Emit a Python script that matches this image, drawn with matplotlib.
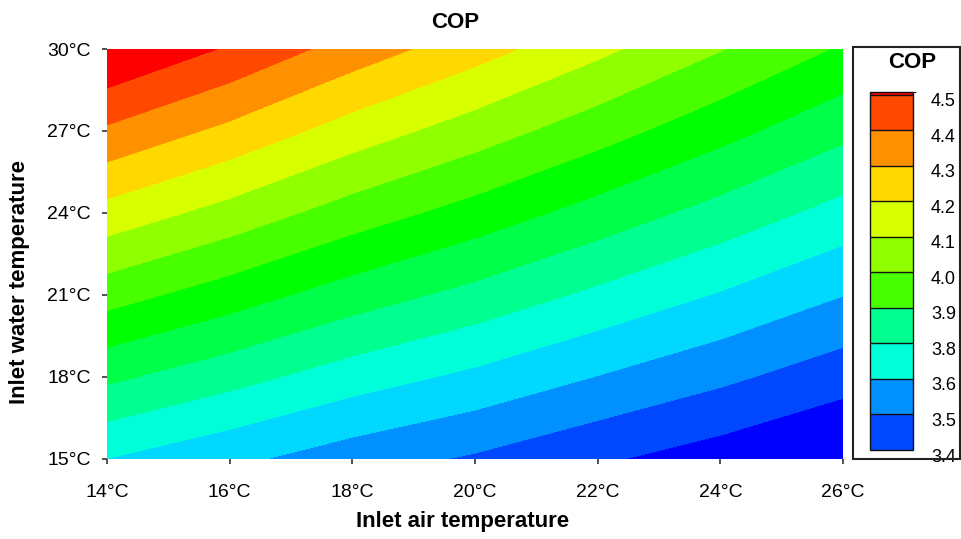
import numpy as np
import matplotlib
matplotlib.use("Agg")
import matplotlib.pyplot as plt
from matplotlib.colors import ListedColormap, BoundaryNorm
from matplotlib.cm import ScalarMappable
from matplotlib.patches import Rectangle
import matplotlib.transforms as mtransforms

plt.rcParams['font.family'] = ['Liberation Sans', 'DejaVu Sans']

# ---- data ----
air_temp = [14, 16, 18, 20, 22, 24, 26]
water_temp = [15, 18, 21, 24, 27, 30]
# COP values: rows = water temperature, columns = air temperature
cop_tw15 = [3.660, 3.599, 3.538, 3.490, 3.432, 3.381, 3.325]
cop_tw18 = [3.837, 3.770, 3.699, 3.642, 3.578, 3.518, 3.454]
cop_tw21 = [4.014, 3.939, 3.861, 3.795, 3.723, 3.654, 3.582]
cop_tw24 = [4.190, 4.110, 4.022, 3.947, 3.868, 3.790, 3.711]
cop_tw27 = [4.367, 4.279, 4.183, 4.100, 4.014, 3.927, 3.841]
cop_tw30 = [4.544, 4.450, 4.344, 4.253, 4.159, 4.064, 3.970]

contour_levels = [3.30, 3.42, 3.50, 3.58, 3.66, 3.74, 3.82, 3.90, 3.98,
                  4.06, 4.14, 4.22, 4.30, 4.38, 4.46, 4.60]
contour_colors = ['#0000ff', '#0048ff', '#0090ff', '#00d8ff', '#00ffd8',
                  '#00ff90', '#00ff48', '#00ff00', '#48ff00', '#90ff00',
                  '#d8ff00', '#ffd800', '#ff9000', '#ff4800', '#ff0000']

x_tick_labels = ['14°C', '16°C', '18°C', '20°C', '22°C', '24°C', '26°C']
y_tick_labels = ['15°C', '18°C', '21°C', '24°C', '27°C', '30°C']

cbar_bounds = [3.42, 3.531, 3.642, 3.753, 3.864, 3.975, 4.086, 4.197,
               4.308, 4.419, 4.53, 4.539]
cbar_colors = ['#0048ff', '#0090ff', '#00ffd8', '#00ff90', '#48ff00',
               '#90ff00', '#d8ff00', '#ffd800', '#ff9000', '#ff4800', '#ff0000']
cbar_labels = ['3.4', '3.5', '3.6', '3.8', '3.9', '4.0', '4.1', '4.2',
               '4.3', '4.4', '4.5']

# ---- figure ----
W, H = 962, 539
fig = plt.figure(figsize=(W / 100, H / 100), dpi=100)

def fx(px):
    return px / W

def fy(py):
    return 1 - py / H

ax = fig.add_axes([fx(107), fy(458.5), fx(843) - fx(107), fy(49) - fy(458.5)])
cop_grid = np.array([cop_tw15, cop_tw18, cop_tw21, cop_tw24, cop_tw27, cop_tw30])
X, Y = np.meshgrid(air_temp, water_temp)
ax.contourf(X, Y, cop_grid, levels=contour_levels, colors=contour_colors)
ax.set_xlim(air_temp[0], air_temp[-1])
ax.set_ylim(water_temp[0], water_temp[-1])
ax.set_xticks(air_temp)
ax.set_xticklabels(x_tick_labels)
ax.set_yticks(water_temp)
ax.set_yticklabels(y_tick_labels)
for s in ax.spines.values():
    s.set_visible(False)
ax.tick_params(axis='both', direction='out', length=3.8, width=1.2,
               color='#333333', labelsize=14)
ax.tick_params(axis='x', pad=14.5)
ax.tick_params(axis='y', pad=8)

ax.set_xlabel('Inlet air temperature', fontsize=16, fontweight='bold', va='top')
ax.xaxis.set_label_coords((463 - 107) / 736, -(511 - 458.5) / 409.5)
ax.set_ylabel('Inlet water temperature', fontsize=16, fontweight='bold')
ax.yaxis.set_label_coords((30 - 107) / 736, 1 - (282 - 49) / 409.5)

fig.text(fx(455), fy(22), 'COP', ha='center', va='center', fontsize=16,
         fontweight='bold')

# ---- colour legend ----
fig.add_artist(Rectangle((fx(853), fy(459)), fx(960) - fx(853), fy(47) - fy(459),
                         transform=fig.transFigure, fill=False,
                         edgecolor='#222222', linewidth=1.5))
fig.text(fx(912), fy(63), 'COP', ha='center', va='center', fontsize=16,
         fontweight='bold')

cax = fig.add_axes([fx(870), fy(450), fx(913) - fx(870), fy(92) - fy(450)])
cmap = ListedColormap(cbar_colors)
norm = BoundaryNorm(cbar_bounds, cmap.N)
cb = fig.colorbar(ScalarMappable(norm=norm, cmap=cmap), cax=cax,
                  boundaries=cbar_bounds, spacing='proportional',
                  ticks=cbar_bounds[:-1], drawedges=True)
cb.set_ticklabels(cbar_labels)
cb.outline.set_linewidth(1.0)
cb.outline.set_edgecolor('#111111')
cb.dividers.set_linewidth(1.0)
cb.dividers.set_color('#111111')
cax.tick_params(length=0, pad=13, labelsize=13)
offset = mtransforms.ScaledTranslation(0, -5 / 100, fig.dpi_scale_trans)
for lbl in cax.get_yticklabels():
    lbl.set_transform(lbl.get_transform() + offset)

fig.savefig('out.png', dpi=100)
